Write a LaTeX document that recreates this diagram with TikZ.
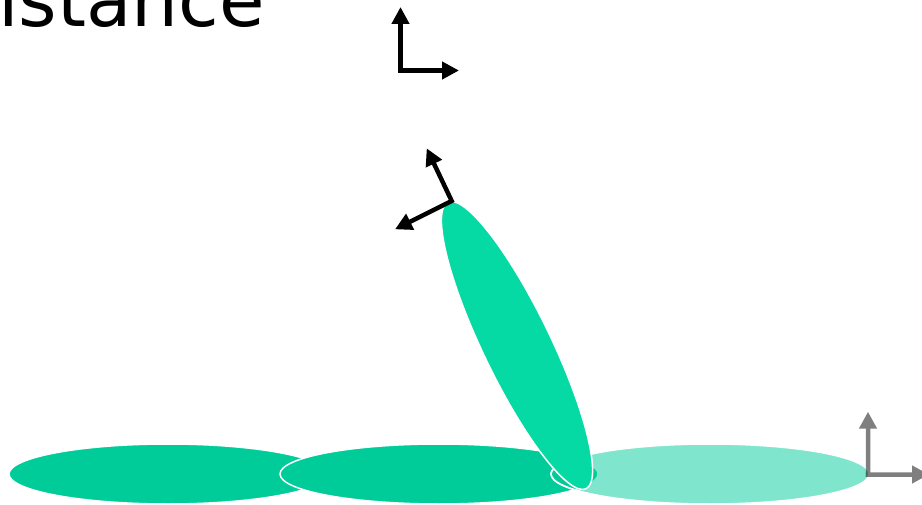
\documentclass[tikz,border=0pt]{standalone}
\usepackage{fontspec}
\setmainfont{DejaVu Sans}
\usetikzlibrary{arrows.meta}
\definecolor{linkgreen}{RGB}{0,204,153}
\definecolor{tiltgreen}{RGB}{6,218,164}
\begin{document}
\begin{tikzpicture}[x=1pt,y=-1pt,
  axisline/.style={line width=4.5pt, line join=miter,
    {Triangle[length=17pt,width=17pt]}-{Triangle[length=17pt,width=17pt]}},
  grayaxis/.style={line width=4.5pt, line cap=rect,
    -{Triangle[length=17pt,width=17pt]}},
  link/.style={fill=linkgreen, draw=white, line width=1.5pt},
]
\path[use as bounding box] (0,0) rectangle (922,505);
\node[anchor=base west, inner sep=0pt, font=\fontsize{74}{80}\selectfont] (title) at (-2,27) {istance};

\coordinate (c1) at (168,474);
\coordinate (c2) at (439,474);
\coordinate (c3) at (710,474);
\coordinate (ct) at (517,345.5);

\draw[link] (c1) ellipse [x radius=159, y radius=30];
\draw[link] (c2) ellipse [x radius=159, y radius=30];
\draw[draw=white, line width=1.5pt, fill=linkgreen, fill opacity=0.5] (c3) ellipse [x radius=159, y radius=30];
\draw[link, fill=tiltgreen, rotate around={-64.24:(ct)}] (ct) ellipse [x radius=159, y radius=34];
\begin{scope}
  \clip (540,469) rectangle (580,500);
  \draw[white, line width=1.5pt] (c3) ellipse [x radius=159, y radius=30];
\end{scope}

% top axes
\coordinate (o1) at (400.5,70.5);
\coordinate (y1) at (400.5,7);
\coordinate (x1) at (459,70.5);
\draw[axisline] (y1) -- (o1) -- (x1);

% rotated axes
\coordinate (o2) at (451.7,201);
\coordinate (y2) at (426.7,148.3);
\coordinate (x2) at (395,229.3);
\draw[axisline] (y2) -- (o2) -- (x2);

% gray axes
\coordinate (o3) at (868,474.5);
\coordinate (y3) at (868,411.7);
\coordinate (x3) at (929,474.5);
\begin{scope}[transparency group, opacity=0.5]
  \draw[grayaxis] (o3) -- (y3);
  \draw[grayaxis] (o3) -- (x3);
\end{scope}
\end{tikzpicture}
\end{document}
